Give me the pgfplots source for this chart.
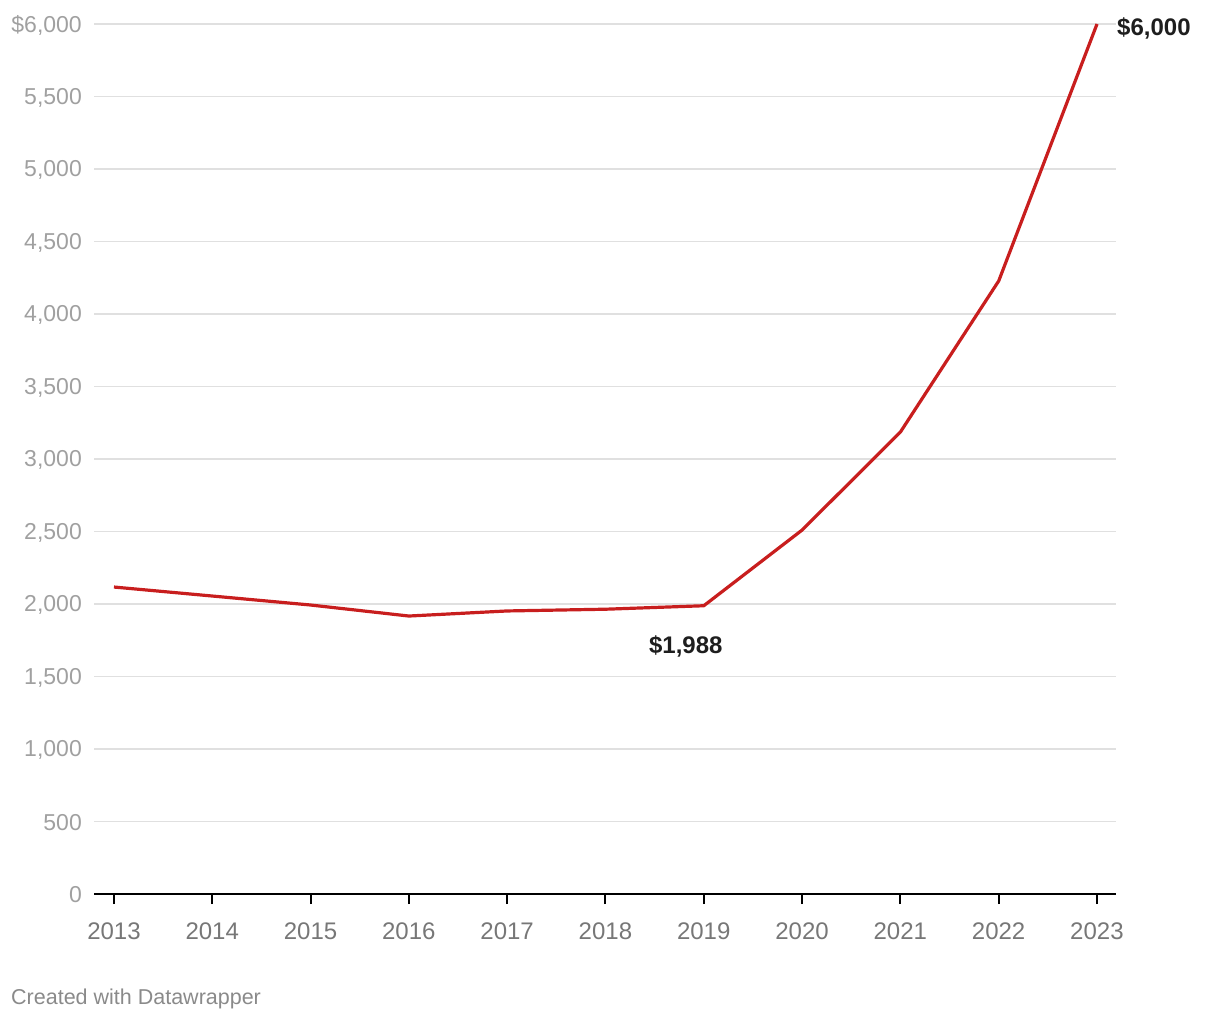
\documentclass[border=0pt]{standalone}
\usepackage{pgfplots}
\pgfplotsset{compat=1.18}
\usepackage{fontspec}
\setmainfont{Liberation Sans}
\definecolor{linered}{HTML}{C81E1E}
\definecolor{gridgray}{HTML}{E0E0E0}
\definecolor{ylab}{HTML}{A0A0A0}
\definecolor{xlab}{HTML}{777777}
\definecolor{credit}{HTML}{8A8A8A}
\definecolor{annot}{HTML}{1E1E1E}
\begin{document}
\begin{tikzpicture}[x=1pt,y=1pt]
\useasboundingbox (0,0) rectangle (1220,1020);
\begin{axis}[
  at={(94pt,126pt)}, anchor=south west,
  scale only axis, width=1022pt, height=870pt,
  xmin=2012.797, xmax=2023.193,
  ymin=0, ymax=6000,
  axis lines*=left,
  axis y line=none,
  axis x line*=bottom,
  x axis line style={black, line width=2pt, -},
  xtick={2013,...,2023},
  xticklabels={2013,2014,2015,2016,2017,2018,2019,2020,2021,2022,2023},
  ytick={0,500,...,6000},
  tick align=outside,
  x tick style={black, line width=2pt},
  major tick length=10pt,
  xticklabel style={font=\fontsize{24}{28}\selectfont, text=xlab, yshift=-15pt},
  /pgf/number format/assume math mode=true,
  clip=false,
]
\pgfplotsinvokeforeach{500,1000,...,6000}{
  \addplot[gridgray, line width=1.6pt, forget plot] coordinates {(2012.797,#1) (2023.193,#1)};
}
\pgfplotsinvokeforeach{0,500,1000,1500,2000,2500,3000,3500,4000,4500,5000,5500}{
  \node[anchor=east, font=\fontsize{23}{27}\selectfont, text=ylab, inner sep=0pt] at (axis cs:2012.797,#1) [xshift=-12pt, yshift=-1pt] {\pgfmathprintnumber[assume math mode=true,1000 sep={,}]{#1}};
}
\node[anchor=east, font=\fontsize{23}{27}\selectfont, text=ylab, inner sep=0pt] at (axis cs:2012.797,6000) [xshift=-12pt, yshift=-1pt] {\$6,000};
\addplot[linered, line width=3.2pt, line join=round] coordinates {
  (2013,2117) (2014,2055) (2015,1993) (2016,1917) (2017,1952)
  (2018,1964) (2019,1988) (2020,2510) (2021,3186) (2022,4228) (2023,6000)
};
\node[anchor=west, font=\bfseries\fontsize{24}{28}\selectfont, text=annot, inner sep=0pt] at (axis cs:2023,6000) [xshift=20pt, yshift=-4pt] {\$6,000};
\node[anchor=center, font=\bfseries\fontsize{24}{28}\selectfont, text=annot, inner sep=0pt] at (axis cs:2019,1988) [xshift=-18pt, yshift=-41pt] {\$1,988};
\end{axis}
\node[anchor=base west, inner sep=0pt, font=\fontsize{21.5}{25}\selectfont, text=credit] at (11,16) {Created with Datawrapper};
\end{tikzpicture}
\end{document}
